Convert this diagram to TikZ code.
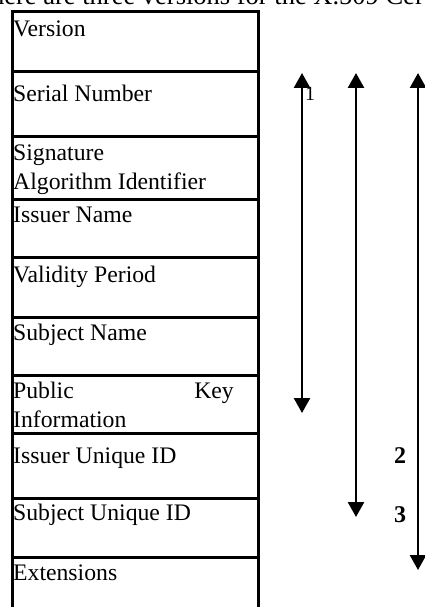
\documentclass[tikz,border=0pt]{standalone}
\usepackage{fontspec}
\setmainfont{Liberation Serif}
\usetikzlibrary{arrows.meta}
\begin{document}
\begin{tikzpicture}[x=1pt,y=-1pt,
  rowbox/.style={draw, line width=3pt, minimum width=245.5pt, inner sep=0pt, outer sep=0pt, anchor=north west},
  lbl/.style={anchor=base west, inner sep=0pt, font=\fontsize{23.7}{28}\selectfont},
  dbl/.style={line width=2.5pt, {Triangle[width=16pt,length=15pt]}-{Triangle[width=16pt,length=15pt]}},
  num/.style={inner sep=0pt, anchor=base, font=\fontsize{24}{28}\selectfont\bfseries}]
\useasboundingbox (0,0) rectangle (424,607);
% clipped heading line
\node[anchor=base east, inner sep=0pt, font=\fontsize{26.5}{30}\selectfont] (intro) at (424,5) {There are three versions for the X.509 Cer\rlap{tificate}};
% rows
\node[rowbox, minimum height=60pt]   (r1) at (12.5,11.5) {};
\node[rowbox, minimum height=64.5pt] (r2) at (12.5,71.5) {};
\node[rowbox, minimum height=63pt]   (r3) at (12.5,136) {};
\node[rowbox, minimum height=58pt]   (r4) at (12.5,199) {};
\node[rowbox, minimum height=60pt]   (r5) at (12.5,257) {};
\node[rowbox, minimum height=58pt]   (r6) at (12.5,317) {};
\node[rowbox, minimum height=58pt]   (r7) at (12.5,375) {};
\node[rowbox, minimum height=65pt]   (r8) at (12.5,433) {};
\node[rowbox, minimum height=59pt]   (r9) at (12.5,498) {};
\node[rowbox, draw=none, minimum height=52pt] (r10) at (12.5,557) {};
\draw[line width=3pt] (r10.north west) -- (r10.south west) (r10.north east) -- (r10.south east);
% labels
\node[lbl] (t1) at (13,37) {Version};
\node[lbl] (t2) at (13,102) {Serial Number};
\node[lbl] (t3a) at (13,160) {Signature};
\node[lbl] (t3b) at (13,189) {Algorithm Identifier};
\node[lbl] (t4) at (13,222) {Issuer Name};
\node[lbl] (t5) at (13,282) {Validity Period};
\node[lbl] (t6) at (13,340) {Subject Name};
\node[lbl] (t7a) at (13,398) {Public};
\node[lbl, anchor=base east] (t7k) at (234,398) {Key};
\node[lbl] (t7b) at (13,427) {Information};
\node[lbl] (t8) at (13,463) {Issuer Unique ID};
\node[lbl] (t9) at (13,520) {Subject Unique ID};
\node[lbl] (t10) at (13,580) {Extensions};
% arrows
\coordinate (a1t) at (302,73);  \coordinate (a1b) at (302,413);
\coordinate (a2t) at (356,73);  \coordinate (a2b) at (356,517);
\coordinate (a3t) at (418,73);  \coordinate (a3b) at (418,570);
\draw[dbl] (a1t) -- (a1b);
\draw[dbl] (a2t) -- (a2b);
\draw[dbl] (a3t) -- (a3b);
\node[inner sep=0pt, anchor=base, font=\fontsize{20}{24}\selectfont] (n1) at (310,101) {1};
\node[num] (n2) at (400,463) {2};
\node[num] (n3) at (400,522) {3};
\end{tikzpicture}
\end{document}
